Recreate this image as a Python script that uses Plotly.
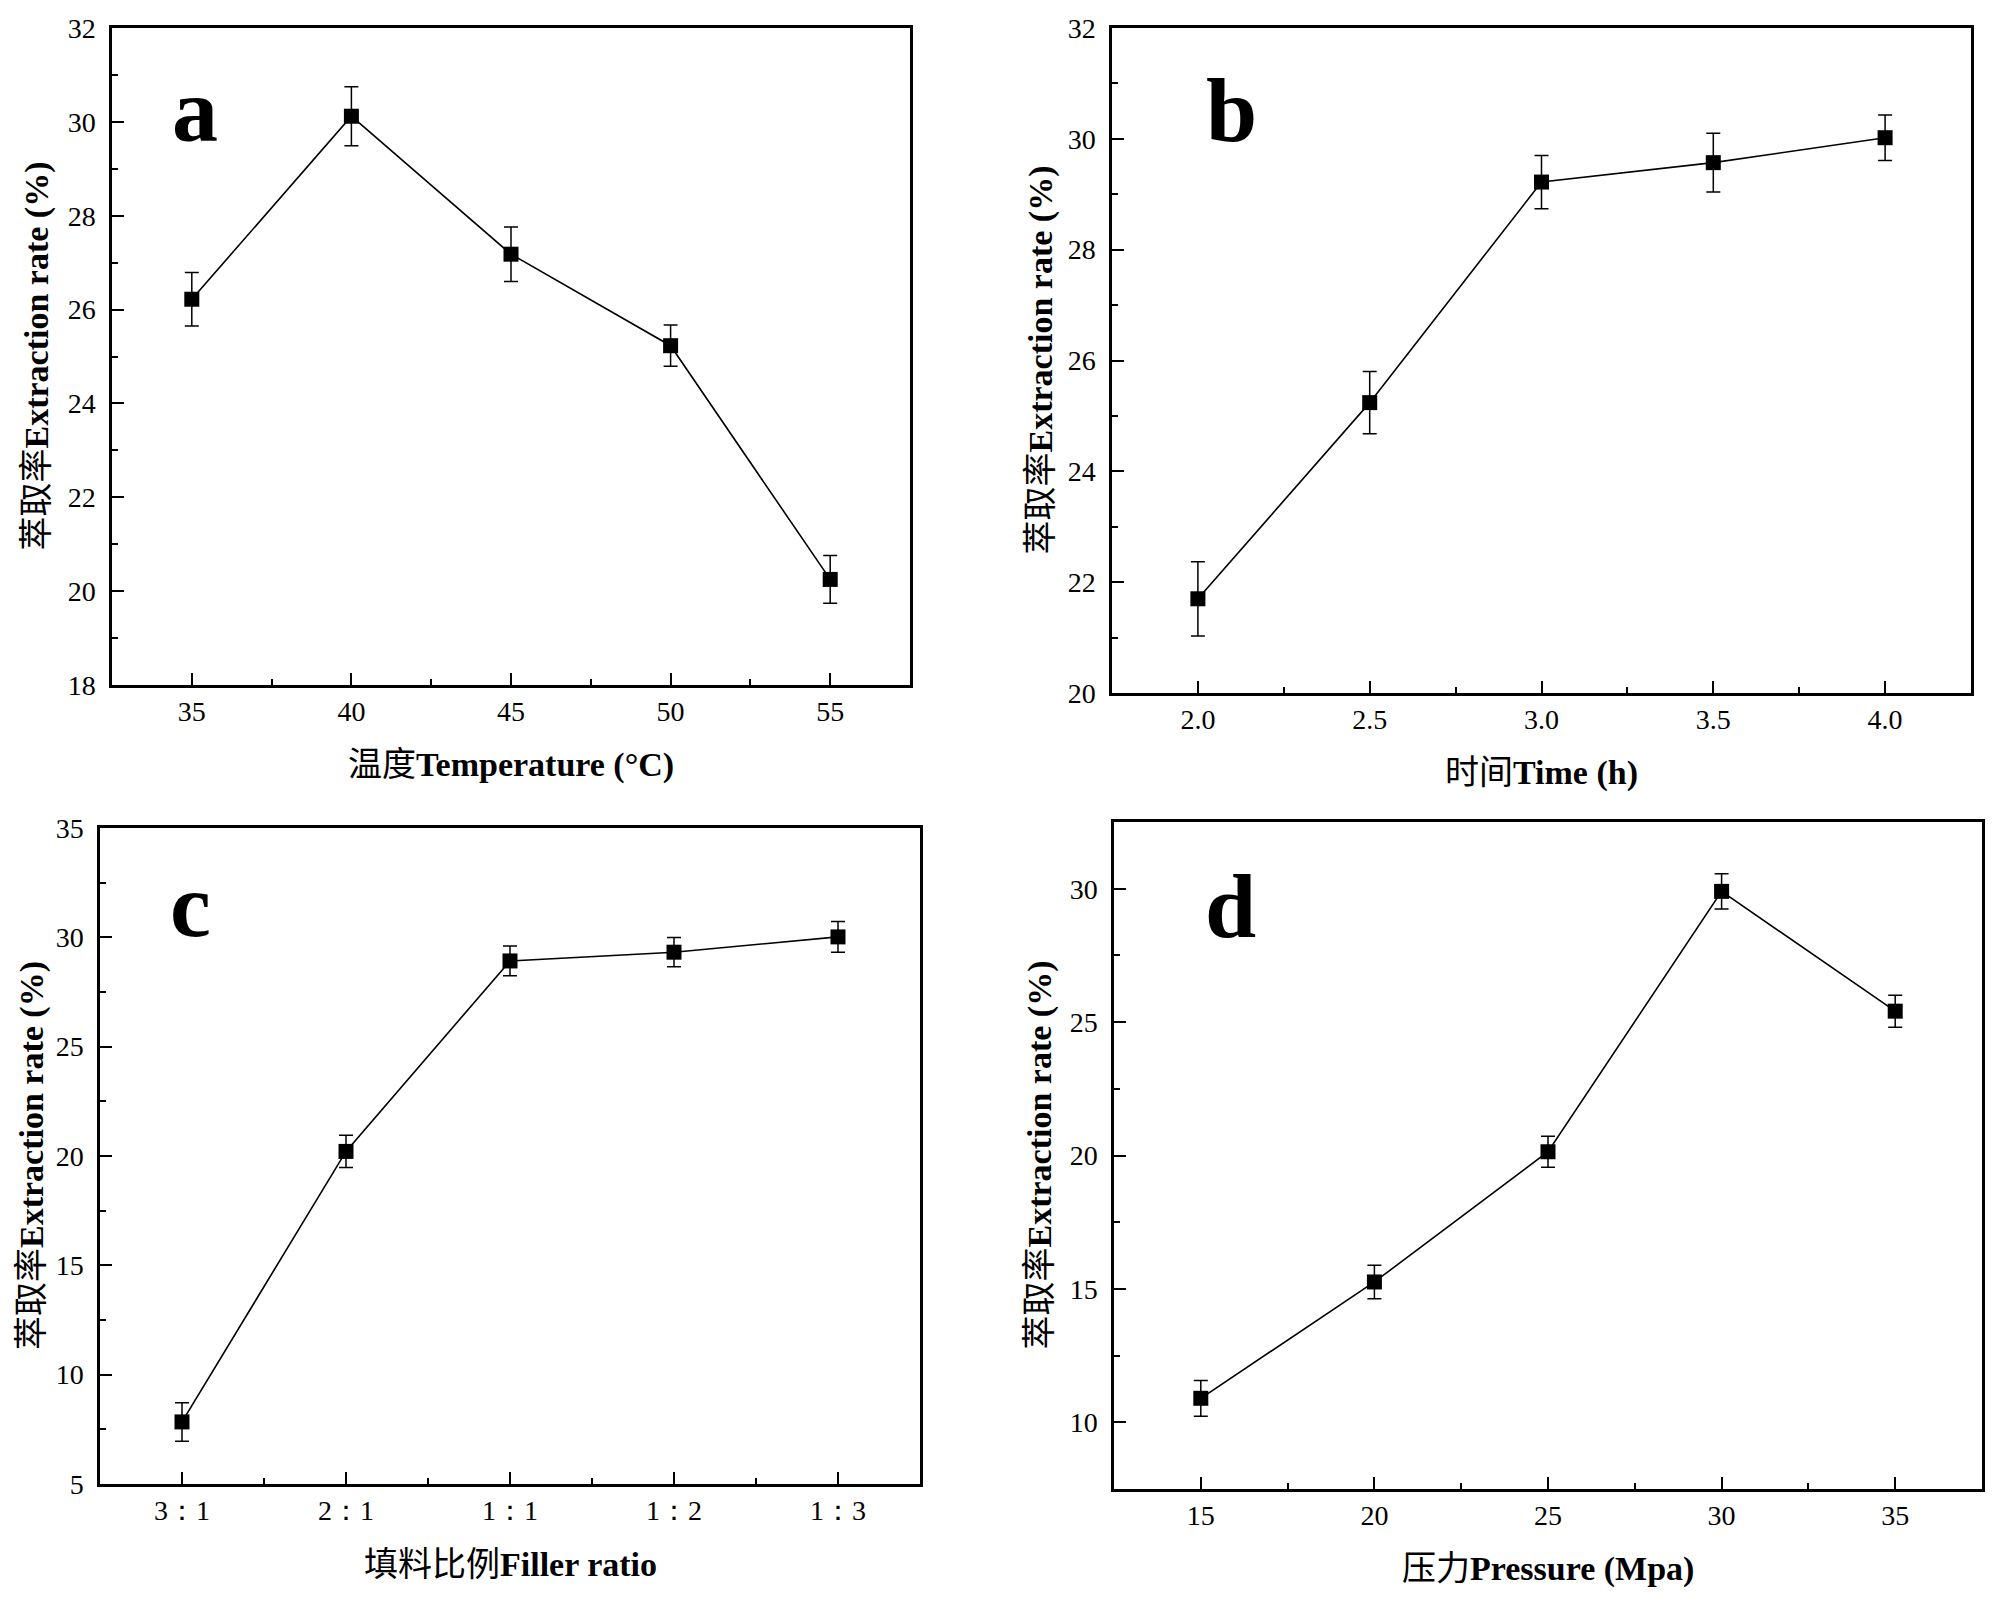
import plotly.graph_objects as go
from plotly.subplots import make_subplots

# panel a: temperature
temperature = [35, 40, 45, 50, 55]
rate_temp = [26.22, 30.12, 27.18, 25.23, 20.25]
err_temp = [0.57, 0.63, 0.58, 0.44, 0.51]

# panel b: time
time_h = [2.0, 2.5, 3.0, 3.5, 4.0]
rate_time = [21.70, 25.24, 29.22, 29.57, 30.02]
err_time = [0.67, 0.56, 0.48, 0.53, 0.41]

# panel c: filler ratio
filler_labels = ["3：1", "2：1", "1：1", "1：2", "1：3"]
rate_filler = [7.84, 20.21, 28.92, 29.32, 30.02]
err_filler = [0.88, 0.74, 0.68, 0.67, 0.70]

# panel d: pressure
pressure = [15, 20, 25, 30, 35]
rate_pressure = [10.90, 15.26, 20.14, 29.90, 25.41]
err_pressure = [0.67, 0.63, 0.58, 0.66, 0.60]

SERIF = "Liberation Serif, Times New Roman, serif"
MIXED = "Liberation Serif, Noto Sans CJK SC, serif"
W, H = 2000, 1605
OFF = 8  # page body margin in the browser
FW, FH = W - OFF, H - OFF


def px(x):
    return (x - OFF) / FW


def py(y):
    return 1 - (y - OFF) / FH


# pixel boxes of the four plot areas on the page: (left, right, top, bottom)
boxes = [
    (112, 910, 28, 685),
    (1112, 1971, 28, 693),
    (100, 920, 828, 1484),
    (1114, 1982, 822, 1489),
]
# distance of the y title centre left of each box
ytitle_gap = [76, 72, 68, 75]

fig = make_subplots(rows=2, cols=2)

panels = [
    dict(x=temperature, y=rate_temp, e=err_temp, row=1, col=1,
         xr=[32.5, 57.5], xd=5, yr=[18, 32], yd=2, fmt="",
         xt="温度<b>Temperature (°C)</b>", letter="a"),
    dict(x=time_h, y=rate_time, e=err_time, row=1, col=2,
         xr=[1.75, 4.25], xd=0.5, yr=[20, 32], yd=2, fmt=".1f",
         xt="时间<b>Time (h)</b>", letter="b"),
    dict(x=list(range(len(filler_labels))), y=rate_filler, e=err_filler, row=2, col=1,
         xr=[-0.5, 4.5], xd=1, yr=[5, 35], yd=5, fmt="",
         xt="填料比例<b>Filler ratio</b>", letter="c"),
    dict(x=pressure, y=rate_pressure, e=err_pressure, row=2, col=2,
         xr=[12.5, 37.5], xd=5, yr=[7.5, 32.5], yd=5, fmt="",
         xt="压力<b>Pressure (Mpa)</b>", letter="d"),
]

for i, p in enumerate(panels):
    fig.add_trace(go.Scatter(
        x=p["x"], y=p["y"], mode="lines+markers",
        line=dict(color="black", width=1.6),
        marker=dict(symbol="square", size=15, color="black"),
        error_y=dict(type="data", array=p["e"], visible=True,
                     color="black", thickness=1.5, width=7),
        showlegend=False,
    ), row=p["row"], col=p["col"])

    l, r, t, b = boxes[i]

    axis_common = dict(
        showgrid=False, zeroline=False, automargin=False,
        showline=True, linecolor="black", linewidth=2.5, mirror=True,
        ticks="inside", ticklen=12, tickwidth=2, tickcolor="black",
        tickfont=dict(family=SERIF, size=28, color="black"),
    )
    fig.update_xaxes(domain=[px(l), px(r)], range=p["xr"], dtick=p["xd"], tickformat=p["fmt"],
                     minor=dict(ticks="inside", ticklen=6, tickwidth=2,
                                tickcolor="black", dtick=p["xd"] / 2),
                     ticklabelstandoff=0,
                     row=p["row"], col=p["col"], **axis_common)
    fig.update_yaxes(domain=[py(b), py(t)], range=p["yr"], dtick=p["yd"],
                     minor=dict(ticks="inside", ticklen=6, tickwidth=2,
                                tickcolor="black", dtick=p["yd"] / 2),
                     ticklabelstandoff=8,
                     row=p["row"], col=p["col"], **axis_common)

    # axis titles
    fig.add_annotation(x=px((l + r) / 2), y=py(b + 80), xref="paper", yref="paper",
                       text=p["xt"], showarrow=False, xanchor="center", yanchor="middle",
                       font=dict(family=MIXED, size=34, color="black"))
    fig.add_annotation(x=px(l - ytitle_gap[i]), y=py((t + b) / 2), xref="paper", yref="paper",
                       text="萃取率<b>Extraction rate (%)</b>", textangle=-90,
                       showarrow=False, xanchor="center", yanchor="middle",
                       font=dict(family=MIXED, size=34, color="black"))

fig.update_xaxes(tickvals=list(range(len(filler_labels))), ticktext=filler_labels,
                 row=2, col=1)

# panel letters (left edge, baseline offset below the top of the box)
letter_pos = [(170, 112), (1204, 112), (168, 107), (1203, 114)]
for i, p in enumerate(panels):
    l, r, t, b = boxes[i]
    lx, ly = letter_pos[i]
    fig.add_annotation(x=px(lx), y=py(t + ly - 30), xref="paper", yref="paper",
                       text="<b>" + p["letter"] + "</b>", showarrow=False,
                       xanchor="left", yanchor="middle",
                       font=dict(family=SERIF, size=92, color="black"))

fig.update_layout(
    width=FW, height=FH,
    margin=dict(l=0, r=0, t=0, b=0),
    paper_bgcolor="white", plot_bgcolor="white",
)

fig.write_html("out.html")
